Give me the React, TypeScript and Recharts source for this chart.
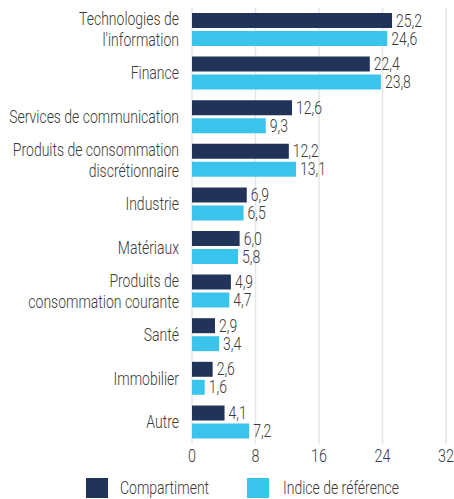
import React from 'react';
import { BarChart, Bar, XAxis, YAxis, CartesianGrid, LabelList } from 'recharts';

const categories: string[][] = [
  ['Technologies de', "l'information"],
  ['Finance'],
  ['Services de communication'],
  ['Produits de consommation', 'discrétionnaire'],
  ['Industrie'],
  ['Matériaux'],
  ['Produits de', 'consommation courante'],
  ['Santé'],
  ['Immobilier'],
  ['Autre'],
];
const compartiment = [25.2, 22.4, 12.6, 12.2, 6.9, 6.0, 4.9, 2.9, 2.6, 4.1];
const indice = [24.6, 23.8, 9.3, 13.1, 6.5, 5.8, 4.7, 3.4, 1.6, 7.2];
const xTicks = [0, 8, 16, 24, 32];
const seriesNames = ['Compartiment', 'Indice de référence'];

const DARK = '#22335a';
const CYAN = '#3ac4ec';
const TEXT = '#3a3a3a';
const FONT = 'Roboto, "Noto Sans", sans-serif';
const SX = 0.8;

const data = categories.map((c, i) => ({
  name: c.join('|'),
  comp: compartiment[i],
  ind: indice[i],
}));

const fmt = (v: any) => Number(v).toFixed(1).replace('.', ',');

const SText = ({ x, y, anchor, children, size = 17 }: any) => (
  <text
    transform={`translate(${x},${y}) scale(${SX},1)`}
    x={0}
    y={0}
    textAnchor={anchor}
    fill={TEXT}
    fontSize={size}
    fontFamily={FONT}
    fontWeight={300}
  >
    {children}
  </text>
);

const CatTick = (props: any) => {
  const { x, y, payload } = props;
  const lines: string[] = String(payload.value).split('|');
  const lh = 21;
  const start = -((lines.length - 1) * lh) / 2;
  return (
    <g>
      {lines.map((l, i) => (
        <SText key={i} x={x - 5} y={y + start + i * lh + 6} anchor="end" size={17.5}>
          {l}
        </SText>
      ))}
    </g>
  );
};

const XTick = (props: any) => {
  const { x, y, payload } = props;
  return (
    <SText x={x} y={y + 10} anchor="middle" size={18}>
      {payload.value}
    </SText>
  );
};

const ValueLabel = (props: any) => {
  const { x, y, width, height, value } = props;
  return (
    <SText x={x + width + 4} y={y + height / 2 + 6} anchor="start" size={17.5}>
      {fmt(value)}
    </SText>
  );
};

const Legend = () => (
  <svg style={{ position: 'absolute', left: 0, top: 476 }} width={454} height={23}>
    <rect x={86} y={2} width={22} height={20} fill={DARK} />
    <SText x={120} y={18} anchor="start" size={17.5}>{seriesNames[0]}</SText>
    <rect x={247} y={2} width={22} height={20} fill={CYAN} />
    <SText x={283} y={18} anchor="start" size={17.5}>{seriesNames[1]}</SText>
  </svg>
);

export default function App() {
  return (
    <div style={{ position: 'absolute', left: 0, top: 0, width: 454, height: 499, background: '#fff' }}>
      <BarChart
        width={454}
        height={470}
        data={data}
        layout="vertical"
        margin={{ top: 8, right: 8, bottom: 2, left: 0 }}
        barSize={15}
        barGap={3}
      >
        <CartesianGrid horizontal={false} stroke="#e6e6e6" strokeWidth={1.5} />
        <XAxis
          type="number"
          domain={[0, 32]}
          ticks={xTicks}
          axisLine={false}
          tickLine={false}
          tick={<XTick />}
          height={24}
        />
        <YAxis
          type="category"
          dataKey="name"
          width={192}
          axisLine={false}
          tickLine={false}
          tick={<CatTick />}
          interval={0}
        />
        <Bar dataKey="comp" fill={DARK} isAnimationActive={false}>
          <LabelList dataKey="comp" content={<ValueLabel />} />
        </Bar>
        <Bar dataKey="ind" fill={CYAN} isAnimationActive={false}>
          <LabelList dataKey="ind" content={<ValueLabel />} />
        </Bar>
      </BarChart>
      <Legend />
    </div>
  );
}
